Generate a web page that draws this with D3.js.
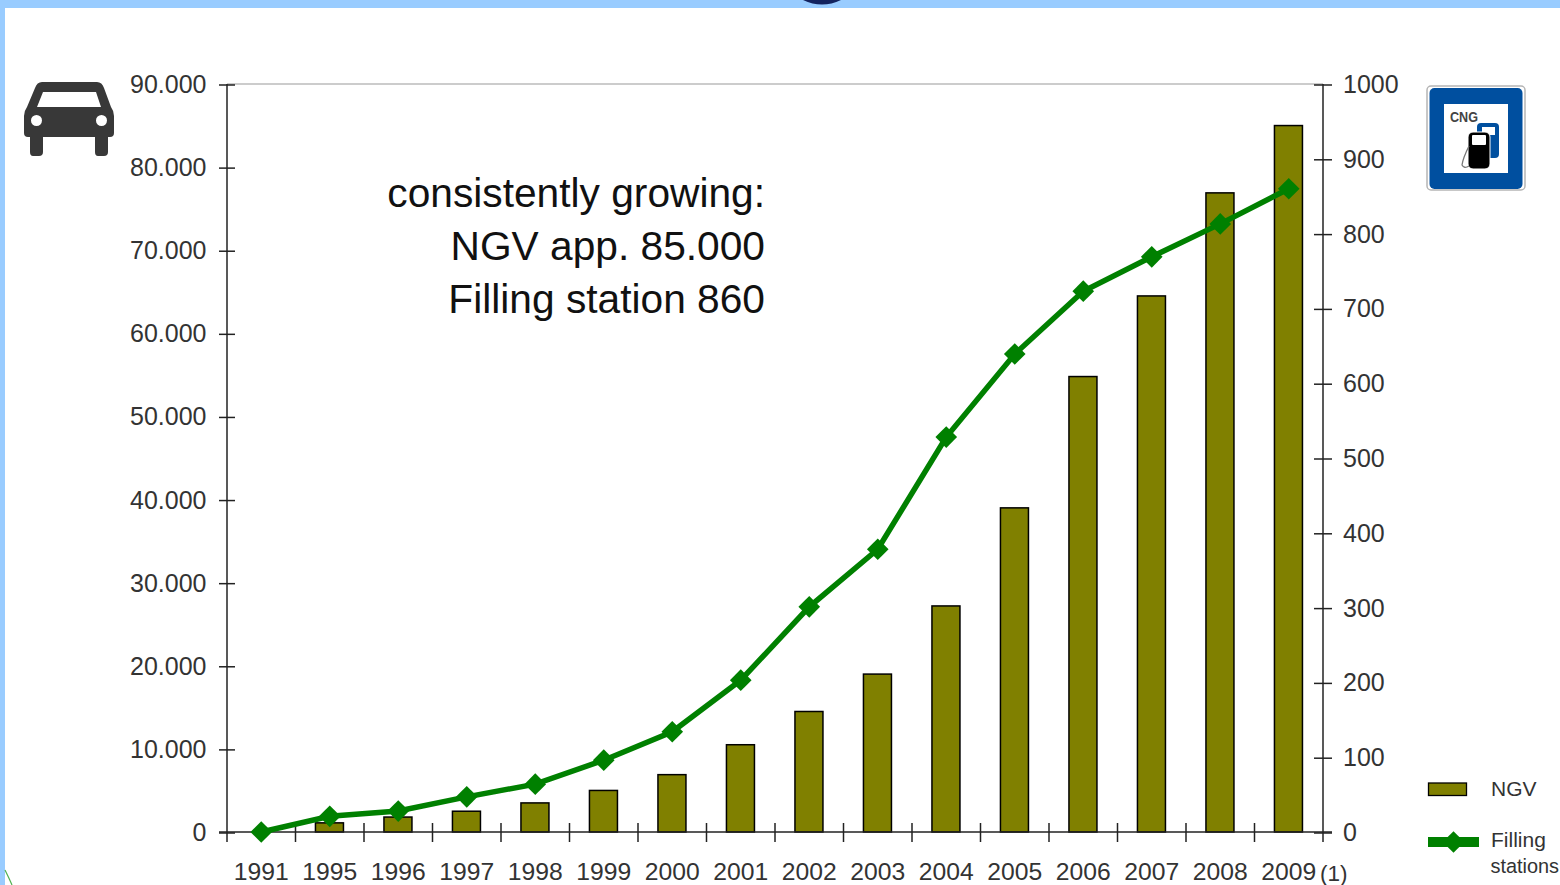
<!DOCTYPE html>
<html><head><meta charset="utf-8">
<script src="https://cdnjs.cloudflare.com/ajax/libs/d3/7.8.5/d3.min.js"></script>
<style>html,body{margin:0;padding:0;background:#fff;overflow:hidden}svg{display:block}text{font-family:"Liberation Sans",Arial,sans-serif;fill:#333}</style>
</head><body><svg id="c" width="1560" height="885"></svg>
<script>
const years=["1991","1995","1996","1997","1998","1999","2000","2001","2002","2003","2004","2005","2006","2007","2008","2009"];
const ngv=[0,1100,1800,2500,3500,5000,6900,10500,14500,19000,27200,39000,54800,64500,76900,85000];
const stations=[0,21,28,47,64,96,134,203,301,378,528,639,723,769,813,860];
const leftTicks=[0,10000,20000,30000,40000,50000,60000,70000,80000,90000];
const rightTicks=[0,100,200,300,400,500,600,700,800,900,1000];
const noteLines=["consistently growing:","NGV app. 85.000","Filling station 860"];

const svg=d3.select("#c");
const m={l:227,r:1323,t:84,b:832};
const x=d3.scaleBand().domain(years).range([m.l,m.r]);
const yL=d3.scaleLinear().domain([0,90000]).range([m.b,m.t]);
const yR=d3.scaleLinear().domain([0,1000]).range([m.b,m.t]);
const fmt=d3.formatLocale({decimal:",",thousands:".",grouping:[3],currency:["",""]}).format(",d");
const OL="#000",GREEN="#008000",OLIVE="#808000",AX="#222";

// slide frame
svg.append("rect").attr("width",1560).attr("height",8).attr("fill","#99ccff");
svg.append("rect").attr("width",5).attr("height",885).attr("fill","#99ccff");
svg.append("path").attr("d","M803 0Q822 9 841 0Z").attr("fill","#14235f");
svg.append("path").attr("d","M5 870Q9 878 12 885").attr("fill","none").attr("stroke","#4fb04f").attr("stroke-width",1.2);

// bars
svg.append("g").selectAll("rect").data(years.map((y,i)=>({y,v:ngv[i]})).filter(d=>d.v>0)).join("rect")
 .attr("x",d=>x(d.y)+x.bandwidth()/2-14.3).attr("width",28)
 .attr("y",d=>yL(d.v)).attr("height",d=>m.b-yL(d.v))
 .attr("fill",OLIVE).attr("stroke",OL).attr("stroke-width",1.5);

// top line
svg.append("line").attr("x1",m.l).attr("x2",m.r).attr("y1",m.t).attr("y2",m.t).attr("stroke","#999").attr("stroke-width",1.2);

function styleAxis(g){g.select(".domain").remove();g.selectAll("line").attr("stroke",AX).attr("stroke-width",1.5);g.selectAll("text").attr("fill","#333").style("font-size","25px");}
// left axis
const gl=svg.append("g").attr("transform",`translate(${m.l},0.5)`).call(d3.axisLeft(yL).tickValues(leftTicks).tickFormat(fmt).tickSize(8).tickPadding(12));
gl.selectAll(".tick line").attr("x2",-8).clone().attr("x2",8);
styleAxis(gl);
gl.selectAll("text").attr("x",-20.5);
// right axis
const gr=svg.append("g").attr("transform",`translate(${m.r},0.5)`).call(d3.axisRight(yR).tickValues(rightTicks).tickFormat(d3.format("d")).tickSize(9));
gr.selectAll(".tick line").clone().attr("x2",-9);
styleAxis(gr);
gr.selectAll("text").attr("x",20);
// vertical and baseline
svg.append("line").attr("x1",m.l).attr("x2",m.l).attr("y1",m.t).attr("y2",842).attr("stroke",AX).attr("stroke-width",1.5);
svg.append("line").attr("x1",m.r).attr("x2",m.r).attr("y1",m.t).attr("y2",842).attr("stroke",AX).attr("stroke-width",1.5);
svg.append("line").attr("x1",219).attr("x2",1332).attr("y1",m.b).attr("y2",m.b).attr("stroke",AX).attr("stroke-width",1.5);
// category boundary ticks
svg.append("g").selectAll("line").data(years.slice(1)).join("line")
 .attr("x1",d=>x(d)).attr("x2",d=>x(d)).attr("y1",823).attr("y2",842).attr("stroke",AX).attr("stroke-width",1.5);
// x labels
svg.append("g").selectAll("text").data(years).join("text")
 .attr("x",d=>x(d)+x.bandwidth()/2).attr("y",879.5).attr("text-anchor","middle").style("font-size","24.7px").text(d=>d);
svg.append("text").attr("x",1320).attr("y",881).style("font-size","22.5px").text("(1)");

// line
const cx=d=>x(d)+x.bandwidth()/2;
const pts=years.map((y,i)=>({y,v:stations[i]}));
svg.append("path").datum(pts).attr("fill","none").attr("stroke",GREEN).attr("stroke-width",5.5)
 .attr("d",d3.line().x(d=>cx(d.y)).y(d=>yR(d.v)));
svg.append("g").selectAll("path").data(pts).join("path")
 .attr("d",d3.symbol().type(d3.symbolSquare).size(235))
 .attr("transform",d=>`translate(${cx(d.y)},${yR(d.v)}) rotate(45)`).attr("fill",GREEN);

// annotation
svg.append("g").selectAll("text").data(noteLines).join("text")
 .attr("x",765).attr("y",(d,i)=>207+i*53).attr("text-anchor","end")
 .style("font-size","40.7px").style("fill","#111").text(d=>d);

// car icon
const car=svg.append("g").attr("fill","#383838");
car.append("path").attr("fill-rule","evenodd").attr("d","M42 82H97Q102 82 104 88L111 107Q114 111 114 116V133Q114 137 110 137H108V152Q108 156 104 156H98Q95 156 95 152V137H43V152Q43 156 39 156H33Q30 156 30 152V137H28Q24 137 24 133V116Q24 111 27 107L35 88Q37 82 42 82ZM43 92L37 107H101L96 92Z");
car.append("circle").attr("cx",36.5).attr("cy",120.5).attr("r",5.5).attr("fill","#fff");
car.append("circle").attr("cx",101.5).attr("cy",120.5).attr("r",5.5).attr("fill","#fff");

// CNG sign
const s=svg.append("g");
s.append("rect").attr("x",1427).attr("y",86).attr("width",98).attr("height",104).attr("rx",4).attr("fill","#fff").attr("stroke","#b5b5b5").attr("stroke-width",1.5);
s.append("rect").attr("x",1429.5).attr("y",88).attr("width",93).attr("height",101).attr("rx",5).attr("fill","#004f9f");
s.append("rect").attr("x",1444).attr("y",104).attr("width",64).attr("height",69).attr("fill","#fff");
s.append("text").attr("x",1450).attr("y",122).attr("textLength",28).attr("lengthAdjust","spacingAndGlyphs").style("font-size","15.5px").style("font-weight","bold").style("fill","#444").text("CNG");
s.append("rect").attr("x",1477).attr("y",123).attr("width",22).attr("height",35).attr("rx",4).attr("fill","#004f9f");
s.append("rect").attr("x",1482).attr("y",127).attr("width",13).attr("height",8).attr("fill","#fff");
s.append("rect").attr("x",1468).attr("y",132).attr("width",22).attr("height",37).attr("rx",5).attr("fill","#000").attr("stroke","#fff").attr("stroke-width",1);
s.append("rect").attr("x",1472).attr("y",135).attr("width",14).attr("height",10).attr("rx",1).attr("fill","#fff");
s.append("path").attr("d","M1469 146Q1463 158 1462 165Q1464 169 1469 166").attr("fill","none").attr("stroke","#777").attr("stroke-width",1.3);

// legend
svg.append("rect").attr("x",1428.5).attr("y",783).attr("width",38).attr("height",12.5).attr("fill",OLIVE).attr("stroke",OL).attr("stroke-width",1.3);
svg.append("text").attr("x",1491).attr("y",796).style("font-size","21px").text("NGV");
svg.append("line").attr("x1",1428).attr("x2",1479).attr("y1",842).attr("y2",842).attr("stroke",GREEN).attr("stroke-width",10);
svg.append("path").attr("d",d3.symbol().type(d3.symbolSquare).size(235)).attr("transform","translate(1453.5,842) rotate(45)").attr("fill",GREEN);
svg.append("text").attr("x",1491).attr("y",847).style("font-size","21px").text("Filling");
svg.append("text").attr("x",1490.5).attr("y",873).style("font-size","19.9px").text("stations");
</script></body></html>
